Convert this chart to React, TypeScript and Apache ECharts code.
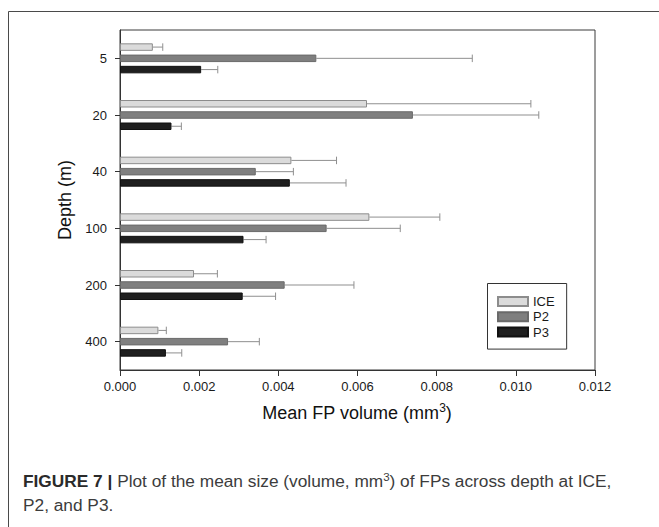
import React, { useEffect, useRef } from 'react';
import * as echarts from 'echarts';

const depths = ['5', '20', '40', '100', '200', '400'];
const seriesNames = ['ICE', 'P2', 'P3'];

const iceMean = [0.00083, 0.00624, 0.00433, 0.0063, 0.00187, 0.00097];
const iceUpper = [0.00108, 0.01038, 0.00547, 0.00808, 0.00246, 0.00117];
const p2Mean = [0.00496, 0.0074, 0.00343, 0.00522, 0.00416, 0.00273];
const p2Upper = [0.0089, 0.01058, 0.00438, 0.00708, 0.00591, 0.00352];
const p3Mean = [0.00205, 0.0013, 0.00429, 0.00312, 0.0031, 0.00116];
const p3Upper = [0.00247, 0.00155, 0.00571, 0.00369, 0.00393, 0.00156];

const xMin = 0;
const xMax = 0.012;
const xInterval = 0.002;

const xTitle = '{n|Mean FP volume (mm}{s|3}{n|)}';
const yTitle = 'Depth (m)';
const captionLine1 =
  '{b|FIGURE 7 |}{r| Plot of the mean size (volume, mm}{s|3}{r|) of FPs across depth at ICE,}';
const captionLine2 = '{r|P2, and P3.}';

const FONT = '"Liberation Sans", Arial, Helvetica, sans-serif';

export default function App() {
  const ref = useRef<HTMLDivElement>(null);

  useEffect(() => {
    const chart = echarts.init(ref.current!, null, { renderer: 'svg' });
    const BAR_W = 7.5;
    const step = BAR_W * 1.5;
    const styles = [
      { color: '#dbdbdb', borderColor: '#8c8c8c' },
      { color: '#7f7f7f', borderColor: '#6a6a6a' },
      { color: '#1f1f1f', borderColor: '#111111' },
    ];
    const means = [iceMean, p2Mean, p3Mean];
    const uppers = [iceUpper, p2Upper, p3Upper];

    const barSeries = seriesNames.map((name, i) => ({
      type: 'bar',
      name,
      data: means[i],
      barWidth: BAR_W,
      barGap: '50%',
      itemStyle: { ...styles[i], borderWidth: 1 },
      z: 3,
    }));

    const errSeries = seriesNames.map((name, i) => ({
      type: 'custom',
      name: name + ' SE',
      data: depths.map((_, j) => [uppers[i][j], j, means[i][j]]),
      encode: { x: 0, y: 1 },
      z: 2,
      renderItem: (_params: any, api: any) => {
        const cat = api.value(1);
        const s = api.coord([api.value(2), cat]);
        const e = api.coord([api.value(0), cat]);
        const y = s[1] + (i - 1) * step;
        const h = BAR_W / 2;
        const st = { stroke: '#8f8f8f', lineWidth: 1 };
        return {
          type: 'group',
          children: [
            { type: 'line', shape: { x1: s[0], y1: y, x2: e[0], y2: y }, style: st },
            { type: 'line', shape: { x1: e[0], y1: y - h, x2: e[0], y2: y + h }, style: st },
          ],
        };
      },
    }));

    chart.setOption({
      animation: false,
      backgroundColor: '#ffffff',
      textStyle: { fontFamily: FONT },
      grid: {
        left: 120,
        top: 30,
        right: 64,
        bottom: 157,
        show: true,
        borderColor: '#3a3a3a',
        borderWidth: 1,
        backgroundColor: 'transparent',
      },
      legend: {
        data: seriesNames,
        orient: 'vertical',
        left: 487.5,
        top: 283.5,
        itemWidth: 30,
        itemHeight: 9,
        itemGap: 2.3,
        padding: [11.5, 12, 10.5, 9.5],
        borderColor: '#333333',
        borderWidth: 1,
        textStyle: { fontSize: 13, color: '#1a1a1a', lineHeight: 13, fontFamily: FONT },
        icon: 'rect',
      },
      xAxis: {
        type: 'value',
        min: xMin,
        max: xMax,
        interval: xInterval,
        axisLine: { show: true, lineStyle: { color: '#333333', width: 1 } },
        axisTick: { show: true, inside: false, length: 6, lineStyle: { color: '#333333' } },
        axisLabel: {
          fontSize: 13,
          color: '#1a1a1a',
          margin: 10,
          formatter: (v: number) => v.toFixed(3),
        },
        splitLine: { show: false },
      },
      yAxis: {
        type: 'category',
        data: depths,
        inverse: true,
        axisLine: { show: true, lineStyle: { color: '#333333', width: 1 } },
        axisTick: { show: true, alignWithLabel: true, length: 5, lineStyle: { color: '#333333' } },
        axisLabel: { fontSize: 13, color: '#1a1a1a', margin: 13 },
        splitLine: { show: false },
      },
      graphic: [
        {
          type: 'rect',
          shape: { x: 8.5, y: 11.5, width: 1000, height: 1000 },
          style: { fill: 'none', stroke: '#4a4a4a', lineWidth: 1 },
          silent: true,
        },
        {
          type: 'text',
          x: 357,
          y: 413,
          style: {
            text: xTitle,
            align: 'center',
            verticalAlign: 'middle',
            fontFamily: FONT,
            rich: {
              n: { fontSize: 18, lineHeight: 22, fill: '#111111', fontFamily: FONT },
              s: { fontSize: 12, lineHeight: 12, verticalAlign: 'top', fill: '#111111', fontFamily: FONT },
            },
          },
        },
        {
          type: 'text',
          x: 65,
          y: 200,
          rotation: Math.PI / 2,
          style: {
            text: yTitle,
            align: 'center',
            verticalAlign: 'middle',
            fontSize: 18,
            fill: '#111111',
            fontFamily: FONT,
          },
        },
        {
          type: 'text',
          x: 23,
          y: 481,
          style: {
            text: captionLine1,
            align: 'left',
            verticalAlign: 'middle',
            fontFamily: FONT,
            rich: {
              b: { fontSize: 17.3, fontWeight: 'bold', lineHeight: 21, fill: '#2a2a2a', fontFamily: FONT },
              r: { fontSize: 17.3, lineHeight: 21, fill: '#3c3c3c', fontFamily: FONT },
              s: { fontSize: 11.5, lineHeight: 11.5, verticalAlign: 'top', fill: '#3c3c3c', fontFamily: FONT },
            },
          },
        },
        {
          type: 'text',
          x: 23,
          y: 505,
          style: {
            text: captionLine2,
            align: 'left',
            verticalAlign: 'middle',
            fontFamily: FONT,
            rich: {
              r: { fontSize: 17.3, lineHeight: 21, fill: '#3c3c3c', fontFamily: FONT },
            },
          },
        },
      ],
      series: [...errSeries, ...barSeries],
    });

    return () => chart.dispose();
  }, []);

  return (
    <div
      ref={ref}
      style={{ position: 'fixed', left: 0, top: 0, width: 659, height: 527, background: '#fff' }}
    />
  );
}
